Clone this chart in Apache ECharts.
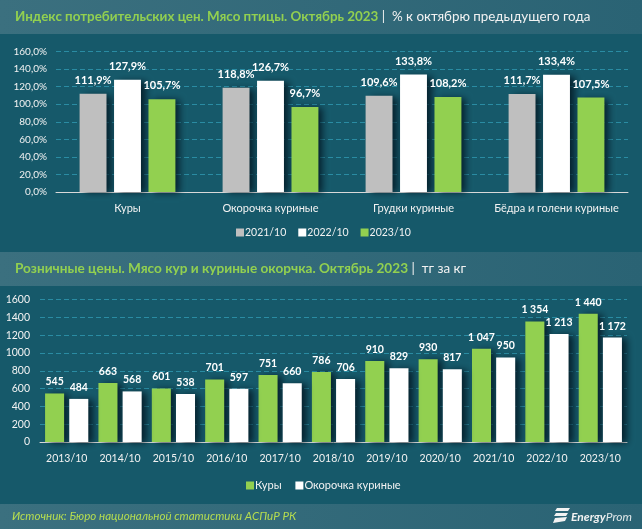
<!DOCTYPE html>
<html><head><meta charset="utf-8">
<style>html,body{margin:0;padding:0;background:#16596a}#c{width:642px;height:529px}</style>
<script src="https://cdn.jsdelivr.net/npm/echarts@6/dist/echarts.min.js"></script>
</head><body><div id="c"></div>
<script>
const topCategories = ['Куры','Окорочка куриные','Грудки куриные','Бёдра и голени куриные'];
const index2021 = [111.9,118.8,109.6,111.7];
const index2022 = [127.9,126.7,133.8,133.4];
const index2023 = [105.7,96.7,108.2,107.5];
const topTicks = {min:0,max:160,interval:20};
const years = ['2013/10','2014/10','2015/10','2016/10','2017/10','2018/10','2019/10','2020/10','2021/10','2022/10','2023/10'];
const chicken = [545,663,601,701,751,786,910,930,1047,1354,1440];
const legs = [484,568,538,597,660,706,829,817,950,1213,1172];

const FONT = 'Lato, "Open Sans", sans-serif';
const GREEN='#92d050', WHITE='#ffffff', GREY='#bfbfbf', TXT='#f2f2f2';
const pct1 = v => v.toFixed(1).replace('.',',')+'%';
const spaced = v => String(v).replace(/\B(?=(\d{3})+$)/g,' ');
const band = () => ({type:'linear',x:0,y:0,x2:1,y2:0,colorStops:[{offset:0,color:'#3b707f'},{offset:1,color:'#2a6374'}]});
const shadow = {shadowColor:'rgba(0,15,25,0.75)',shadowBlur:7,shadowOffsetX:5,shadowOffsetY:1};

function bar(name,data,color,xi,fmt,dist,gap,catGap,fs){
  return {type:'bar',name,data,xAxisIndex:xi,yAxisIndex:xi,barGap:gap,barCategoryGap:catGap,
    itemStyle:Object.assign({color},shadow),
    label:{show:true,position:'top',distance:dist,color:'#fff',fontFamily:FONT,fontWeight:'bold',fontSize:fs,
      formatter:p=>fmt(p.value)}};
}
const axisCommon = {
  axisTick:{show:false},
  axisLine:{show:true,lineStyle:{color:'#d9d9d9',width:1}},
  axisLabel:{color:TXT,fontFamily:FONT,fontSize:11}
};
const chart = echarts.init(document.getElementById('c'),null,{renderer:'canvas'});
chart.setOption({
  animation:false,
  backgroundColor:'#16596a',
  graphic:[
    {type:'rect',silent:true,z:-1,shape:{x:0,y:0,width:642,height:34},style:{fill:band()}},
    {type:'rect',silent:true,z:-1,shape:{x:0,y:252,width:642,height:34},style:{fill:band()}},
    {type:'rect',silent:true,z:-1,shape:{x:0,y:504,width:642,height:25},style:{fill:band()}},
    {type:'text',x:15,y:17,style:{text:'{a|Индекс потребительских цен. Мясо птицы. Октябрь 2023}{b| |  % к октябрю предыдущего года}',verticalAlign:'middle',rich:{a:{fill:GREEN,font:'bold 13.4px '+FONT},b:{fill:'#f2f2f2',font:'13.4px '+FONT}}}},
    {type:'text',x:15,y:269,style:{text:'{a|Розничные цены. Мясо кур и куриные окорчка. Октябрь 2023}{b| |  тг за кг}',verticalAlign:'middle',rich:{a:{fill:GREEN,font:'bold 13.6px '+FONT},b:{fill:'#f2f2f2',font:'13.4px '+FONT}}}},
    {type:'text',x:12,y:516,style:{text:'Источник: Бюро национальной статистики АСПиР РК',verticalAlign:'middle',fill:'#b5dc50',font:'italic 11.6px '+FONT}},
    {type:'text',x:571,y:517,style:{text:'{a|Energy}{b|Prom}',verticalAlign:'middle',rich:{a:{fill:'#f2f2f2',font:'italic bold 12px '+FONT},b:{fill:'#e0e8ea',font:'italic 12px '+FONT}}}},
    {type:'polygon',silent:true,shape:{points:[[557,508],[570,508],[568,511],[555,511]]},style:{fill:'#f2f2f2'}},
    {type:'polygon',silent:true,shape:{points:[[556,513],[568,513],[566,516],[554,516]]},style:{fill:'#f2f2f2'}},
    {type:'polygon',silent:true,shape:{points:[[555,518],[567,517],[565,521],[553,523]]},style:{fill:'#f2f2f2'}}
  ],
  legend:[
    {data:['2021/10','2022/10','2023/10'],top:222,left:231,icon:'rect',itemWidth:8,itemHeight:8,itemGap:12,
     textStyle:{color:TXT,fontFamily:FONT,fontSize:10.5,padding:[0,0,0,-4]}},
    {data:['Куры ','Окорочка куриные'],top:475,left:241,icon:'rect',itemWidth:8,itemHeight:8,itemGap:11,
     textStyle:{color:TXT,fontFamily:FONT,fontSize:11,padding:[0,0,0,-4]}}
  ],
  grid:[
    {left:56,top:51.5,width:572,height:140.5},
    {left:40,top:299.5,width:587,height:142.5}
  ],
  xAxis:[
    Object.assign({},axisCommon,{type:'category',gridIndex:0,data:topCategories,axisLabel:Object.assign({},axisCommon.axisLabel,{margin:11,interval:0})}),
    Object.assign({},axisCommon,{type:'category',gridIndex:1,data:years,axisLabel:Object.assign({},axisCommon.axisLabel,{fontSize:10.5,margin:11,interval:0})})
  ],
  yAxis:[
    {type:'value',gridIndex:0,min:topTicks.min,max:topTicks.max,interval:topTicks.interval,axisLine:{show:false},axisTick:{show:false},
     axisLabel:{color:TXT,fontFamily:FONT,fontSize:10,margin:9,formatter:v=>v.toFixed(1).replace('.',',')+'%'},
     splitLine:{lineStyle:{color:'#2a8ca3',type:[5,3],width:1}}},
    {type:'value',gridIndex:1,min:0,max:1600,interval:200,axisLine:{show:false},axisTick:{show:false},
     axisLabel:{color:TXT,fontFamily:FONT,fontSize:10.5,margin:10,formatter:v=>String(v)},
     splitLine:{lineStyle:{color:'#2a8ca3',type:[5,3],width:1}}}
  ],
  series:[
    bar('2021/10',index2021,GREY,0,pct1,8,'28%','33%',11),
    bar('2022/10',index2022,WHITE,0,pct1,8,'28%','33%',11),
    bar('2023/10',index2023,GREEN,0,pct1,8,'28%','33%',11),
    bar('Куры ',chicken,GREEN,1,spaced,6,'27%','19%',10.5),
    bar('Окорочка куриные',legs,WHITE,1,spaced,6,'27%','19%',10.5)
  ]
});
</script></body></html>
